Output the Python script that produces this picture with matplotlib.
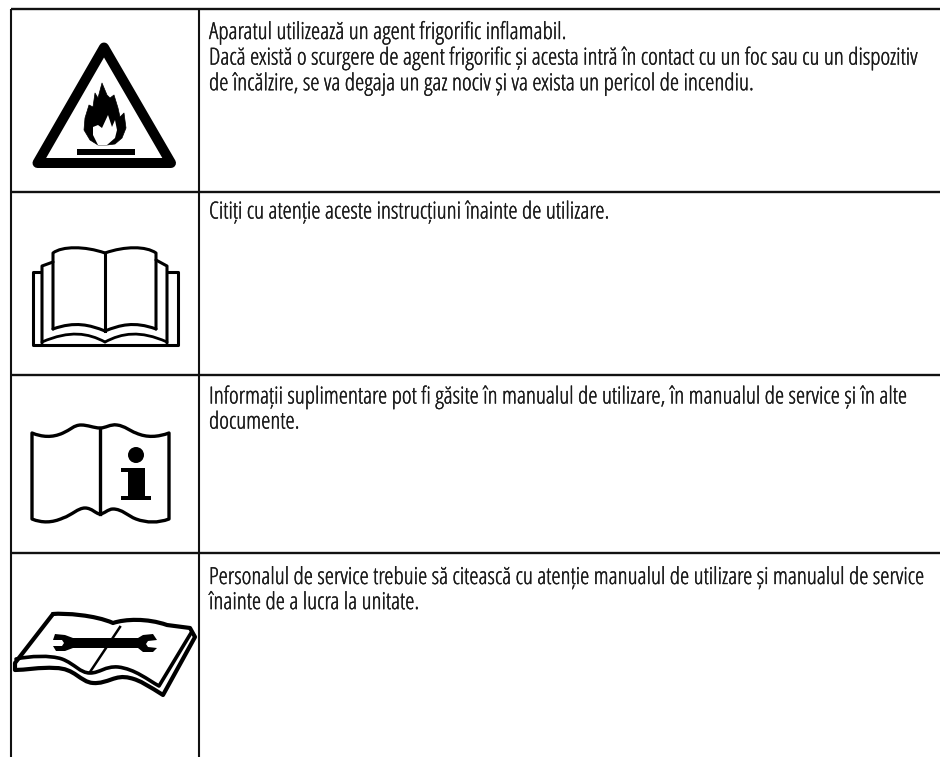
import matplotlib
matplotlib.use("Agg")
import matplotlib.pyplot as plt
import matplotlib.patheffects as pe
from matplotlib.path import Path
from matplotlib.patches import PathPatch, Polygon, Circle, Rectangle

row_lines = [9.3, 191.5, 375, 553]
col_lines = [11, 198.5]
row_texts = [
    "Aparatul utilizează un agent frigorific inflamabil.\n"
    "Dacă există o scurgere de agent frigorific și acesta intră în contact cu un foc sau cu un dispozitiv\n"
    "de încălzire, se va degaja un gaz nociv și va exista un pericol de incendiu.",
    "Citiți cu atenție aceste instrucțiuni înainte de utilizare.",
    "Informații suplimentare pot fi găsite în manualul de utilizare, în manualul de service și în alte\n"
    "documente.",
    "Personalul de service trebuie să citească cu atenție manualul de utilizare și manualul de service\n"
    "înainte de a lucra la unitate.",
]
text_tops = [21, 200, 385, 566]

fig = plt.figure(figsize=(9.40, 7.57), dpi=100)
ax = fig.add_axes([0, 0, 1, 1])
ax.set_xlim(0, 940)
ax.set_ylim(757, 0)
ax.axis("off")

for y in row_lines:
    ax.plot([11, 940], [y, y], color="#111111", lw=1.7, solid_capstyle="butt")
for x in col_lines:
    ax.plot([x, x], [9, 757], color="#111111", lw=1.5, solid_capstyle="butt")

for t, y in zip(row_texts, text_tops):
    ax.text(209, y, t, fontsize=16.9, family="Open Sans", color="#1a1a1a",
            va="top", ha="left", linespacing=1.06, stretch="condensed",
            path_effects=[pe.withStroke(linewidth=0.25, foreground="#1a1a1a")])


def curve(points, lw=2.6, fill="none", close=False):
    verts = [points[0]]
    codes = [Path.MOVETO]
    for seg in points[1:]:
        if len(seg) == 2:
            verts.append(seg)
            codes.append(Path.LINETO)
        else:
            verts += [seg[0:2], seg[2:4], seg[4:6]]
            codes += [Path.CURVE4] * 3
    if close:
        verts.append(points[0])
        codes.append(Path.CLOSEPOLY)
    ax.add_patch(PathPatch(Path(verts, codes), fc=fill, ec="black", lw=lw,
                           joinstyle="round", capstyle="round"))


# warning triangle
ax.add_patch(Polygon([(104, 47.5), (37.5, 163), (171, 163)], closed=True, fc="white", ec="black",
                     lw=7.2, joinstyle="round"))
# flame
flame_outer = [(98, 145), (90, 140), (84, 130), (85, 118), (89, 105), (93, 107), (95, 93),
               (98, 98), (102, 83), (107, 95), (110, 98), (114, 95), (118, 108), (120, 117),
               (124, 113), (126, 128), (122, 138), (115, 144), (107, 145)]
flame_inner = [(98, 145), (93, 135), (93, 127), (98, 125), (102, 128), (108, 115),
               (112, 127), (115, 120), (117, 130), (115, 138), (107, 145)]
ax.add_patch(Polygon(flame_outer, closed=True, fc="black", ec="black", lw=0.5, joinstyle="round"))
ax.add_patch(Polygon(flame_inner, closed=True, fc="white", ec="none"))
ax.add_patch(Rectangle((77, 149), 58, 6, fc="black", ec="none"))

# book 1
LW1 = 2.2
curve([(41, 272), (32.5, 272), (32.5, 345), (177.5, 345), (177.5, 272), (168, 272)], lw=LW1)
curve([(42, 343), (42, 266), (53, 262)], lw=LW1)
curve([(167, 343), (167, 266), (156, 260)], lw=LW1)
curve([(53, 329), (53, 253), ((62, 246, 85, 246, 105, 253))], lw=LW1)
curve([(156, 329), (156, 253), ((146, 246, 125, 246, 105, 253))], lw=LW1)
curve([(53, 329), ((75, 321, 90, 325, 105, 331))], lw=LW1)
curve([(156, 329), ((134, 321, 120, 325, 105, 331))], lw=LW1)
ax.plot([105, 105], [253, 331], color="black", lw=LW1)
curve([(42, 342), ((70, 330, 88, 333, 105, 342))], lw=2.0)
curve([(167, 342), ((140, 330, 122, 333, 105, 342))], lw=2.0)

# book 2
LW2 = 2.4
curve([(32, 433), ((42, 437, 52, 438, 63, 433)), ((70, 430, 74, 425, 81, 425)),
       ((88, 425, 94, 428, 100, 428)), ((106, 428, 110, 424, 117, 425)),
       ((125, 426, 130, 431, 136, 433)), ((147, 438, 158, 437, 169, 433)),
       (169, 519), ((158, 523, 147, 523, 136, 519)), ((128, 516, 122, 509, 113, 509)),
       ((108, 509, 104, 514, 100, 514)), ((96, 514, 92, 508, 85, 508)),
       ((78, 508, 72, 515, 63, 518)), ((52, 523, 42, 523, 32, 519))],
      lw=LW2, close=True)
ax.plot([100, 100], [428, 514], color="black", lw=LW2)
ax.add_patch(Circle((136, 455), 8, fc="black", ec="none"))
ax.add_patch(Polygon([(121, 468), (145, 468), (145, 496), (151, 496), (151, 500),
                      (121, 500), (121, 496), (128, 496), (128, 472), (121, 472)],
                     closed=True, fc="black", ec="none"))

# book 3
curve([(53, 614), ((65, 613, 95, 615, 113, 623)), ((125, 619, 147, 618, 167, 625)),
       (190, 628), (195, 637), (163, 695), ((150, 687, 140, 680, 130, 678)),
       ((115, 674, 108, 684, 93, 683)), ((80, 682, 75, 668, 55, 668)),
       ((40, 667, 25, 670, 15, 670)), (15, 663), (53, 614)], lw=3.0)
curve([(16, 659), ((30, 656, 50, 655, 62, 659)), ((75, 664, 80, 673, 90, 673)),
       ((100, 673, 105, 666, 118, 667)), ((135, 669, 148, 680, 159, 686)), (191, 633)], lw=2.6)
ax.plot([120, 90], [627, 672], color="black", lw=1.8)
ax.add_patch(Polygon([(55, 634), (65, 635), (73, 638), (138, 638), (143, 635), (153, 634),
                      (157, 640), (148, 641), (146, 644), (148, 647), (157, 648), (153, 652),
                      (143, 652), (138, 648), (73, 648), (65, 651), (56, 651), (53, 646),
                      (62, 646), (64, 643), (62, 640), (53, 640)],
                     closed=True, fc="black", ec="none"))

fig.savefig("out.png", dpi=100)
